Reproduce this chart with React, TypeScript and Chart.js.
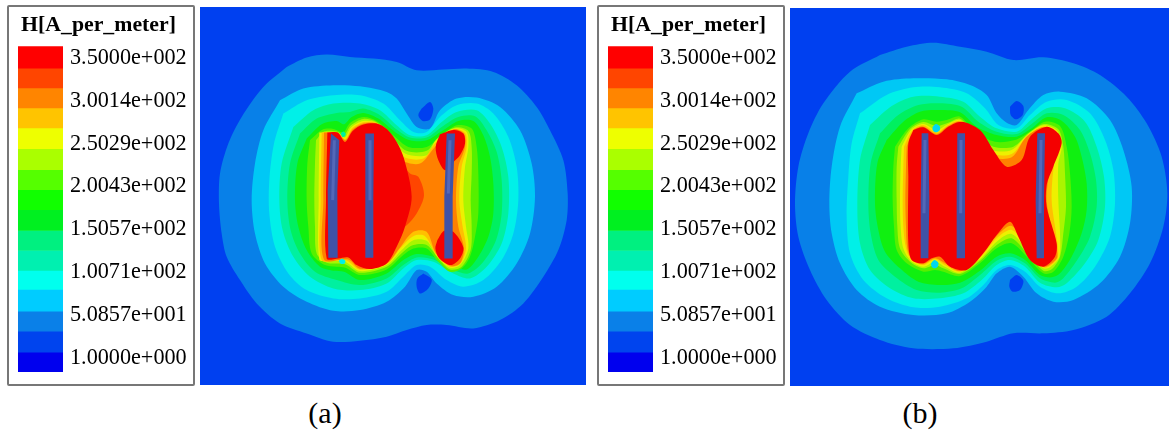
import React, { useEffect, useRef } from "react";
import { Chart, registerables } from "chart.js";

Chart.register(...registerables);

type Pt = [number, number];

const serif = "'Liberation Serif', 'Times New Roman', serif";

// Colour-bar
const legendTitle = "H[A_per_meter]";
const tickValues = [350, 300.14, 250.29, 200.43, 150.57, 100.71, 50.857, 1];
const tickLabels = ["3.5000e+002", "3.0014e+002", "2.5029e+002", "2.0043e+002", "1.5057e+002", "1.0071e+002", "5.0857e+001", "1.0000e+000"];
const bandEdges = [363.9, 338.4, 315.2, 292.0, 268.8, 244.5, 220.1, 196.9, 173.8, 149.4, 126.2, 103.0, 81.0, 55.5, 32.3, 8.0, -15.2];
const bandColors = ["#ff0000", "#ff4500", "#ff8500", "#ffc400", "#eeff00", "#aaff00", "#55ff00", "#11ff00", "#00f020", "#00f080", "#00f0b0", "#00ffee", "#00ccff", "#0a80e8", "#0044ee", "#0000ee"];

// Contour colours, outermost to innermost
const levelColors = ["#0880e8", "#00c8f5", "#00f0e8", "#00f0a0", "#00f060", "#10f010", "#55f000", "#aaf500", "#eef000", "#ffc000", "#ff8000"];
const fieldBlue = "#0040f0";
const orangeRed = "#ff4500";
const coreRed = "#f40000";
const skyDot = "#00d8f0";
const rodColor = "#3f52a6";
const rodLight = "#5468b8";

// Panel (a) contours
const aL1: Pt[] = [[260,200],[320,172],[380,163],[450,170],[520,175],[590,185],[650,210],[730,208],[800,205],[880,215],[950,255],[1010,320],[1050,390],[1090,480],[1103,580],[1100,660],[1075,750],[1030,830],[970,910],[900,960],[820,985],[740,975],[680,975],[620,990],[560,1010],[480,1022],[400,1025],[320,1000],[240,970],[170,910],[120,840],[80,770],[65,700],[57,610],[60,520],[85,430],[125,350],[190,260]];
const aL2: Pt[] = [[240,300],[310,265],[400,255],[480,258],[560,275],[590,295],[620,340],[650,380],[690,385],[720,330],[770,295],[830,292],[900,320],[960,390],[995,490],[1005,590],[990,700],[950,790],[890,860],[820,890],[760,885],[710,850],[680,815],[650,810],[615,860],[560,905],[480,930],[400,932],[320,905],[250,860],[195,790],[165,700],[155,600],[165,490],[190,390]];
const aL3: Pt[] = [[250,340],[320,300],[400,285],[480,285],[550,310],[600,360],[640,395],[680,395],[720,350],[770,315],[830,310],[880,340],[925,410],[950,500],[955,600],[940,700],[905,780],[850,840],[790,860],[740,840],[690,800],[650,795],[610,830],[560,875],[480,895],[400,895],[320,870],[265,820],[225,740],[208,640],[208,540],[222,430]];
const aL4: Pt[] = [[280,380],[340,330],[400,310],[480,310],[540,330],[590,375],[630,405],[680,405],[725,365],[770,335],[830,330],[870,370],[905,440],[925,530],[925,640],[905,730],[860,800],[810,835],[760,820],[700,785],[650,780],[610,805],[560,850],[480,870],[400,865],[330,830],[280,770],[248,690],[238,600],[245,490]];
const aL5: Pt[] = [[300,400],[350,355],[410,338],[450,335],[490,325],[540,345],[590,388],[630,412],[680,412],[725,380],[775,350],[825,348],[860,390],[890,455],[905,540],[905,640],[888,720],[850,785],[805,820],[760,810],[700,778],[650,772],[610,795],[560,835],[480,855],[410,840],[345,815],[300,760],[272,690],[262,600],[270,490]];
const aL6: Pt[] = [[320,415],[365,372],[410,362],[432,372],[455,350],[490,338],[535,355],[585,395],[630,420],[680,420],[725,393],[775,362],[820,362],[850,405],[870,470],[880,550],[880,640],[865,710],[835,770],[800,808],[755,795],[700,770],[650,762],[610,780],[560,820],[480,840],[432,815],[400,812],[360,800],[320,750],[295,680],[285,600],[292,490]];
const aL7: Pt[] = [[330,420],[368,388],[400,386],[430,396],[450,368],[490,350],[530,362],[580,405],[625,440],[680,440],[720,410],[770,375],[815,385],[830,440],[835,520],[835,640],[825,710],[810,770],[785,805],[750,815],[715,785],[680,745],[640,745],[610,765],[560,808],[480,825],[436,803],[410,800],[375,795],[335,760],[325,680],[320,600],[322,490]];
const aL8: Pt[] = [[348,420],[372,394],[410,394],[432,405],[452,376],[490,356],[530,366],[575,410],[620,452],[680,452],[712,415],[765,382],[805,392],[815,440],[815,520],[812,600],[815,680],[812,750],[785,800],[750,808],[715,775],[680,735],[640,735],[610,755],[560,800],[480,818],[438,793],[415,790],[380,788],[350,760],[345,680],[343,600],[345,490]];
const aL9: Pt[] = [[358,397],[412,397],[434,412],[454,381],[490,362],[530,368],[572,412],[615,460],[680,465],[708,420],[762,385],[800,395],[805,440],[795,500],[790,600],[798,680],[805,745],[780,795],[750,803],[712,770],[680,722],[640,720],[605,750],[560,795],[480,813],[440,787],[420,783],[385,782],[358,778],[356,600]];
const aL10: Pt[] = [[365,397],[412,397],[436,417],[456,385],[490,366],[530,369],[570,415],[610,470],[670,475],[705,430],[760,387],[795,398],[800,440],[785,500],[778,600],[788,680],[798,745],[780,792],[750,800],[710,765],[675,708],[640,708],[600,745],[560,792],[480,809],[442,782],[420,780],[365,780],[362,600]];
const aL11: Pt[] = [[372,397],[412,397],[436,420],[458,388],[490,370],[530,370],[568,395],[605,478],[660,490],[705,440],[760,388],[792,400],[795,440],[775,500],[768,600],[775,680],[792,745],[780,790],[750,797],[708,760],[680,695],[640,695],[598,745],[560,790],[480,806],[445,778],[372,778],[370,600]];
const aSliver: Pt[] = [[600,480],[630,520],[655,530],[672,585],[650,640],[620,675],[590,690],[600,600]];
const aCore: Pt[] = [[382,397],[413,397],[435,425],[458,392],[490,373],[530,370],[562,388],[590,425],[612,475],[635,590],[615,680],[590,740],[560,790],[510,807],[470,795],[445,772],[415,775],[380,775],[378,600]];
const aCoreTop: Pt[] = [[720,402],[760,389],[790,400],[795,430],[780,465],[755,490],[735,510],[715,480],[707,440]];
const aCoreBottom: Pt[] = [[712,720],[732,692],[760,695],[790,742],[780,775],[752,795],[718,775],[706,745]];
const aHoleTop: Pt[] = [[665,325],[690,305],[700,325],[690,358],[668,362],[655,345]];
const aHoleBottom: Pt[] = [[670,820],[695,838],[685,865],[660,880],[650,860],[652,835]];
const aDotTop: Pt[] = [[422,400],[430,394],[437,400],[435,408],[427,410]];
const aDotBottom: Pt[] = [[416,782],[426,776],[436,782],[434,790],[422,791]];
const aRods: Pt[][] = [
  [[393,400],[418,420],[412,570],[413,773],[385,773],[383,570]],
  [[497,400],[522,400],[520,590],[520,773],[497,773],[495,590]],
  [[740,400],[765,400],[758,590],[758,775],[732,775],[733,590]],
];
const aRodLights: Pt[][] = [
  [[403,420],[398,600]],
  [[510,420],[510,600]],
  [[750,420],[745,580]],
];

// Panel (b) contours
const bL1: Pt[] = [[300,165],[380,140],[460,128],[540,140],[620,155],[700,180],[790,172],[880,190],[960,225],[1040,290],[1100,370],[1145,470],[1162,580],[1150,680],[1110,790],[1050,880],[980,950],[880,990],[790,1000],[700,1000],[620,1025],[520,1045],[400,1045],[300,1020],[210,975],[140,900],[90,810],[55,710],[45,610],[55,500],[85,400],[130,310],[210,215]];
const bL2: Pt[] = [[230,280],[310,245],[400,235],[500,238],[570,255],[620,285],[650,340],[680,368],[710,375],[745,330],[790,285],[840,275],[920,295],[990,360],[1030,450],[1055,560],[1050,670],[1020,770],[960,850],[880,900],[820,905],[770,880],[730,830],[690,800],[650,820],[620,860],[570,905],[500,940],[400,945],[300,920],[230,870],[180,790],[155,700],[148,610],[155,500],[180,380]];
const bL3: Pt[] = [[240,340],[320,285],[400,262],[480,262],[560,280],[615,325],[655,375],[710,385],[750,345],[800,305],[860,300],[930,340],[975,420],[1000,510],[1005,610],[990,710],[945,800],[890,860],[835,880],[780,860],[735,815],[690,795],[650,810],[610,855],[560,895],[480,920],[400,922],[320,895],[250,840],[210,760],[200,650],[205,530],[215,430]];
const bL4: Pt[] = [[270,375],[335,318],[400,290],[480,290],[550,305],[600,350],[650,385],[710,395],[750,362],[800,325],[855,325],[915,365],[950,440],[972,530],[975,620],[955,720],[915,790],[860,850],[830,862],[780,848],[735,800],[690,780],[650,795],[605,840],[550,880],[480,895],[400,895],[330,865],[270,810],[240,730],[232,620],[240,480]];
const bL5: Pt[] = [[300,400],[355,345],[415,315],[480,310],[545,320],[595,365],[650,395],[710,402],[755,372],[800,340],[850,345],[900,390],[930,460],[948,540],[950,620],[930,710],[895,775],[850,835],[825,848],[780,835],[735,790],[690,770],[650,782],[600,825],[545,865],[480,878],[410,870],[345,830],[295,780],[272,700],[265,610],[272,490]];
const bL6: Pt[] = [[320,420],[370,365],[420,335],[480,330],[540,337],[590,380],[650,405],[710,410],[755,385],[800,352],[845,362],[885,410],[905,470],[920,550],[920,630],[905,700],[875,770],[840,820],[815,832],[780,825],[735,780],[690,760],[650,770],[600,812],[540,848],[480,855],[415,845],[360,805],[315,755],[295,690],[285,610],[292,490]];
const bL7: Pt[] = [[345,440],[385,385],[430,358],[470,365],[500,360],[540,350],[585,395],[645,425],[705,420],[750,395],[795,365],[840,378],[860,440],[870,520],[875,620],[868,700],[850,770],[820,815],[790,820],[745,775],[695,730],[650,745],[600,790],[540,828],[490,815],[465,810],[430,815],[380,790],[350,750],[342,680],[338,600],[340,500]];
const bL8: Pt[] = [[355,440],[392,385],[430,366],[470,378],[505,368],[540,356],[582,400],[640,440],[700,440],[745,400],[792,372],[835,388],[850,440],[855,520],[858,620],[850,700],[840,770],[815,808],[790,812],[745,765],[695,715],[650,735],[600,783],[540,822],[490,805],[465,795],[430,805],[390,785],[360,745],[352,680],[350,600],[350,500]];
const bL9: Pt[] = [[365,440],[395,388],[430,372],[470,390],[505,372],[540,360],[580,405],[635,450],[695,450],[742,405],[790,376],[832,392],[845,440],[835,490],[835,600],[840,700],[838,770],[812,800],[790,805],[745,755],[695,702],[650,725],[600,778],[540,818],[495,800],[465,785],[430,800],[392,782],[370,745],[362,680],[360,600],[362,500]];
const bL10: Pt[] = [[372,440],[398,390],[430,376],[470,398],[505,375],[540,363],[578,410],[630,460],[695,462],[740,410],[790,380],[830,395],[838,440],[822,495],[815,600],[828,700],[834,770],[810,797],[790,802],[745,745],[695,690],[650,715],[600,773],[540,815],[495,795],[465,778],[430,795],[395,780],[378,745],[370,680],[368,600],[370,500]];
const bL11: Pt[] = [[380,440],[400,392],[430,380],[470,402],[505,378],[540,365],[575,412],[625,468],[695,472],[738,412],[790,381],[830,397],[836,440],[812,500],[800,600],[818,700],[832,770],[808,795],[790,800],[745,738],[695,678],[650,708],[600,768],[540,813],[495,790],[465,775],[430,792],[397,780],[382,745],[378,680],[376,600],[378,500]];
const bCore: Pt[] = [[400,390],[430,382],[470,405],[505,380],[545,365],[600,390],[640,450],[680,500],[725,480],[750,410],[800,380],[835,400],[845,430],[820,500],[800,555],[800,620],[830,730],[825,770],[790,800],[750,780],[715,710],[690,665],[650,705],[610,760],[560,810],[510,800],[480,770],[455,775],[430,790],[395,780],[385,730],[385,530],[385,430]];
const bHoleTop: Pt[] = [[690,320],[710,303],[730,318],[728,345],[708,358],[692,345]];
const bHoleBottom: Pt[] = [[690,840],[710,825],[730,842],[720,870],[698,875],[688,860]];
const bDotTop: Pt[] = [[458,380],[468,372],[480,380],[478,392],[466,397],[458,390]];
const bDotBottom: Pt[] = [[453,790],[463,780],[475,788],[473,800],[463,805],[455,800]];
const bRods: Pt[][] = [
  [[425,400],[445,400],[448,600],[445,775],[420,775],[422,600]],
  [[532,400],[555,400],[555,600],[555,775],[530,775],[530,600]],
  [[772,400],[795,400],[792,600],[792,775],[770,775],[767,600]],
];
const bRodLights: Pt[][] = [
  [[435,420],[432,640]],
  [[543,420],[542,640]],
  [[783,420],[780,640]],
];

function poly(points: Pt[], color: string, tension = 0.3) {
  const closed = [...points, points[0]];
  return {
    data: closed.map(([x, y]) => ({ x, y })),
    showLine: true,
    fill: "shape",
    backgroundColor: color,
    borderColor: color,
    borderWidth: 0,
    pointRadius: 0,
    tension,
  };
}

function stroke(points: Pt[], color: string, width: number) {
  return {
    data: points.map(([x, y]) => ({ x, y })),
    showLine: true,
    fill: false,
    borderColor: color,
    borderWidth: width,
    pointRadius: 0,
    tension: 0,
  };
}

const panelA = {
  left: 200, top: 7, width: 386, height: 378,
  xRange: [0, 1158], yRange: [20, 1155],
  paint: () => [
    ...[aL1, aL2, aL3, aL4, aL5, aL6, aL7, aL8, aL9, aL10, aL11].map((p, i) => poly(p, levelColors[i])),
    poly(aSliver, orangeRed), poly(aCore, coreRed), poly(aCoreTop, coreRed), poly(aCoreBottom, coreRed),
    poly(aHoleTop, fieldBlue), poly(aHoleBottom, fieldBlue),
    poly(aDotTop, levelColors[3]), poly(aDotBottom, levelColors[2]),
    ...aRods.map((r) => poly(r, rodColor, 0)),
    ...aRodLights.map((r) => stroke(r, rodLight, 3)),
  ],
};

const panelB = {
  left: 790, top: 8, width: 379, height: 378,
  xRange: [30, 1167], yRange: [24, 1158],
  paint: () => [
    ...[bL1, bL2, bL3, bL4, bL5, bL6, bL7, bL8, bL9, bL10, bL11].map((p, i) => poly(p, levelColors[i])),
    poly(bCore, coreRed),
    poly(bHoleTop, fieldBlue), poly(bHoleBottom, fieldBlue),
    poly(bDotTop, skyDot), poly(bDotBottom, skyDot),
    ...bRods.map((r) => poly(r, rodColor, 0)),
    ...bRodLights.map((r) => stroke(r, rodLight, 3)),
  ],
};

function Contour({ panel }: { panel: typeof panelA }) {
  const ref = useRef<HTMLCanvasElement>(null);
  useEffect(() => {
    const chart = new Chart(ref.current!, {
      type: "scatter",
      data: { datasets: panel.paint().reverse() as any },
      options: {
        animation: false,
        responsive: false,
        layout: { padding: 0 },
        plugins: { legend: { display: false }, tooltip: { enabled: false } },
        scales: {
          x: { type: "linear", display: false, min: panel.xRange[0], max: panel.xRange[1] },
          y: { type: "linear", display: false, reverse: true, min: panel.yRange[0], max: panel.yRange[1] },
        },
      },
    });
    return () => chart.destroy();
  }, [panel]);
  return (
    <canvas
      ref={ref}
      width={panel.width}
      height={panel.height}
      style={{ position: "absolute", left: panel.left, top: panel.top, background: fieldBlue, filter: "blur(0.6px)" }}
    />
  );
}

const widenTickArea = {
  id: "widenTickArea",
  afterLayout(chart: any) {
    chart.scales.y.right += 9;
    chart.scales.y.width += 9;
  },
};

function ColorBar({ left }: { left: number }) {
  const ref = useRef<HTMLCanvasElement>(null);
  useEffect(() => {
    const chart = new Chart(ref.current!, {
      type: "bar",
      plugins: [widenTickArea],
      data: {
        labels: [legendTitle],
        datasets: bandColors.map((c, i) => ({
          data: [[bandEdges[i + 1], bandEdges[i]]],
          backgroundColor: c,
          borderWidth: 0,
          barPercentage: 1,
          categoryPercentage: 1,
        })) as any,
      },
      options: {
        animation: false,
        responsive: false,
        layout: { padding: { left: 9, top: 0, bottom: 12, right: 9 } },
        plugins: {
          legend: { display: false },
          tooltip: { enabled: false },
          title: {
            display: true,
            text: legendTitle,
            color: "#000",
            font: { family: serif, size: 21.8, weight: "bold" },
            padding: { top: 5, bottom: 8 },
          },
        },
        scales: {
          x: { display: false, stacked: true },
          y: {
            position: "right",
            min: bandEdges[bandEdges.length - 1],
            max: bandEdges[0],
            grid: { display: false, drawTicks: false },
            border: { display: false },
            afterFit: (s: any) => { s.width = 116; s.paddingTop = 0; s.paddingBottom = 0; },
            afterBuildTicks: (s: any) => { s.ticks = tickValues.map((value) => ({ value })); },
            ticks: {
              autoSkip: false,
              padding: 7,
              color: "#000",
              font: { family: serif, size: 22.2 },
              callback: (_v: any, i: number) => tickLabels[i],
            },
          },
        },
      },
    });
    return () => chart.destroy();
  }, []);
  return (
    <div style={{ position: "absolute", left, top: 5, width: 184, height: 377, border: "2px solid #777", borderRadius: 2 }}>
      <canvas ref={ref} width={179} height={377} style={{ position: "absolute", left: 0, top: 0, filter: "blur(0.4px)" }} />
    </div>
  );
}

function Caption({ text, center }: { text: string; center: number }) {
  return (
    <span
      style={{
        position: "absolute", left: center - 40, width: 80, top: 396, textAlign: "center",
        fontFamily: serif, fontSize: 30, lineHeight: "34px", color: "#000",
      }}
    >
      {text}
    </span>
  );
}

export default function App() {
  return (
    <div style={{ position: "fixed", left: 0, top: 0, width: 1169, height: 431, background: "#fff", overflow: "hidden" }}>
      <ColorBar left={7} />
      <Contour panel={panelA} />
      <ColorBar left={597} />
      <Contour panel={panelB} />
      <Caption text="(a)" center={325} />
      <Caption text="(b)" center={920} />
    </div>
  );
}
